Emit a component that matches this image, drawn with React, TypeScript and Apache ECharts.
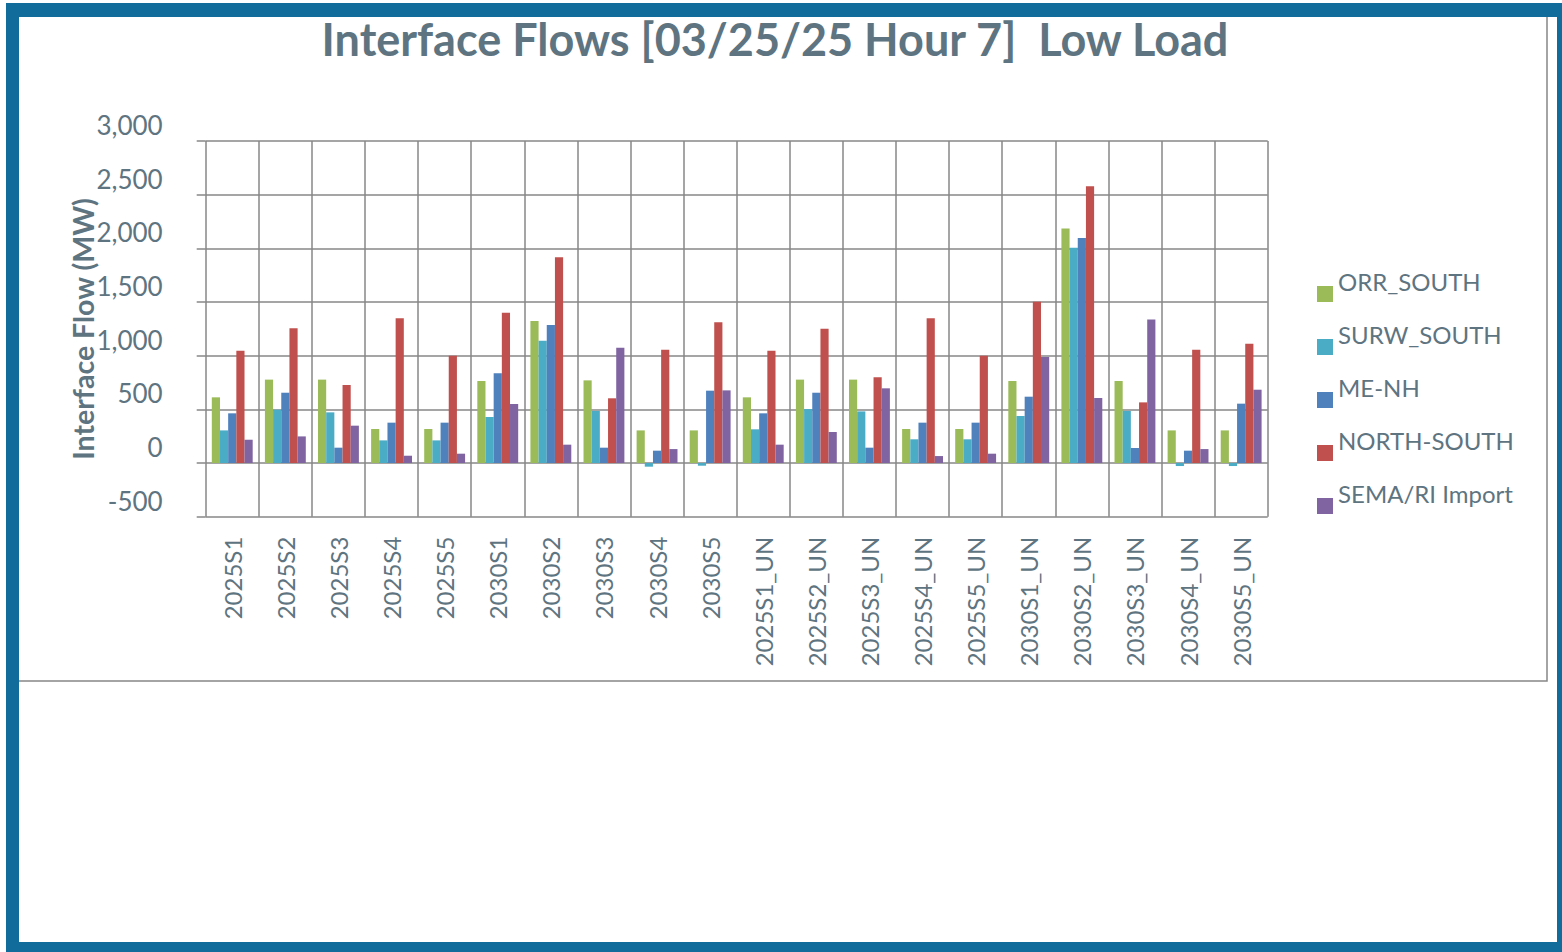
import React, { useEffect, useRef } from "react";
import * as echarts from "echarts";

const categories = [
  "2025S1", "2025S2", "2025S3", "2025S4", "2025S5",
  "2030S1", "2030S2", "2030S3", "2030S4", "2030S5",
  "2025S1_UN", "2025S2_UN", "2025S3_UN", "2025S4_UN", "2025S5_UN",
  "2030S1_UN", "2030S2_UN", "2030S3_UN", "2030S4_UN", "2030S5_UN",
];
const seriesNames = ["ORR_SOUTH", "SURW_SOUTH", "ME-NH", "NORTH-SOUTH", "SEMA/RI Import"];
const orrSouth = [612, 777, 777, 317, 317, 764, 1323, 770, 304, 304, 612, 777, 777, 317, 317, 764, 2184, 764, 304, 304];
const surwSouth = [304, 497, 472, 211, 211, 429, 1140, 485, -34, -25, 314, 503, 481, 221, 221, 438, 2006, 485, -28, -28];
const meNh = [463, 655, 143, 376, 376, 836, 1286, 143, 115, 674, 463, 655, 143, 376, 376, 618, 2097, 140, 115, 553];
const northSouth = [1047, 1255, 727, 1348, 1000, 1401, 1916, 603, 1056, 1311, 1047, 1252, 798, 1348, 1000, 1503, 2578, 565, 1056, 1112];
const semaRi = [217, 248, 348, 68, 87, 550, 171, 1075, 130, 677, 171, 289, 696, 65, 87, 988, 606, 1336, 130, 683];
const colors = ["#9bbb59", "#4bacc6", "#4f81bd", "#c0504d", "#8064a2"];

const yMin = -500;
const yMax = 3000;
const yStep = 500;

const TEXT = "#5e7480";
const GRID = "#878787";
const FRAME = "#116c9b";
const FONT = "Lato";

export default function App() {
  const ref = useRef<HTMLDivElement>(null);
  useEffect(() => {
    if (!ref.current) return;
    const chart = echarts.init(ref.current, undefined, { renderer: "svg" });
    const data = [orrSouth, surwSouth, meNh, northSouth, semaRi];
    chart.setOption({
      animation: false,
      backgroundColor: "#ffffff",
      color: colors,
      title: {
        text: "Interface Flows [03/25/25 Hour 7]  Low Load",
        left: 770,
        top: 11,
        textAlign: "center",
        textStyle: { fontFamily: FONT, fontWeight: "bold", fontSize: 45, color: TEXT },
      },
      legend: {
        orient: "vertical",
        left: 1317,
        top: 269,
        itemWidth: 16,
        itemHeight: 16,
        itemGap: 3,
        icon: "rect",
        padding: 0,
        data: seriesNames,
        formatter: "{a|{name}}",
        textStyle: {
          rich: {
            a: {
              fontFamily: FONT,
              fontSize: 24,
              color: TEXT,
              lineHeight: 30,
              padding: [0, 0, 26, 0],
            },
          },
        },
      },
      grid: { left: 205.7, top: 141, width: 1062, height: 375.7, containLabel: false },
      xAxis: {
        type: "category",
        data: categories,
        axisLine: { show: false, onZero: false },
        axisTick: { show: false },
        splitLine: { show: true, lineStyle: { color: GRID, width: 1.5 } },
        axisLabel: {
          rotate: 90,
          margin: 20,
          interval: 0,
          fontFamily: FONT,
          fontSize: 24,
          color: TEXT,
        },
      },
      yAxis: {
        type: "value",
        min: yMin,
        max: yMax,
        interval: yStep,
        name: "Interface Flow (MW)",
        nameLocation: "middle",
        nameGap: 108,
        nameMoveOverlap: false,
        nameTextStyle: { fontFamily: FONT, fontWeight: "bold", fontSize: 28.5, color: TEXT },
        axisLine: { show: false },
        axisTick: { show: true, length: 9, lineStyle: { color: GRID, width: 1.5 } },
        splitLine: { show: true, lineStyle: { color: GRID, width: 1.5 } },
        axisLabel: {
          margin: 43,
          fontFamily: FONT,
          fontSize: 26,
          color: TEXT,
          verticalAlign: "bottom",
          lineHeight: 32,
          formatter: (v: number) => v.toLocaleString("en-US"),
        },
      },
      series: seriesNames.map((name, i) => ({
        name,
        type: "bar",
        data: data[i],
        barGap: "0%",
        barCategoryGap: "23%",
        itemStyle: { color: colors[i] },
      })),
      graphic: [
        {
          type: "rect",
          z: -1,
          shape: { x: 10, y: 10, width: 1537, height: 671 },
          style: { fill: "none", stroke: GRID, lineWidth: 1.5 },
          silent: true,
        },
        { type: "rect", shape: { x: 6, y: 3, width: 1562, height: 14 }, style: { fill: FRAME }, silent: true },
        { type: "rect", shape: { x: 6, y: 3, width: 13, height: 952 }, style: { fill: FRAME }, silent: true },
        { type: "rect", shape: { x: 1557, y: 3, width: 10, height: 952 }, style: { fill: FRAME }, silent: true },
        { type: "rect", shape: { x: 6, y: 942, width: 1562, height: 12 }, style: { fill: FRAME }, silent: true },
      ],
    });
    return () => chart.dispose();
  }, []);
  return (
    <div
      ref={ref}
      style={{ position: "fixed", left: 0, top: 0, width: 1562, height: 952, background: "#fff" }}
    />
  );
}
